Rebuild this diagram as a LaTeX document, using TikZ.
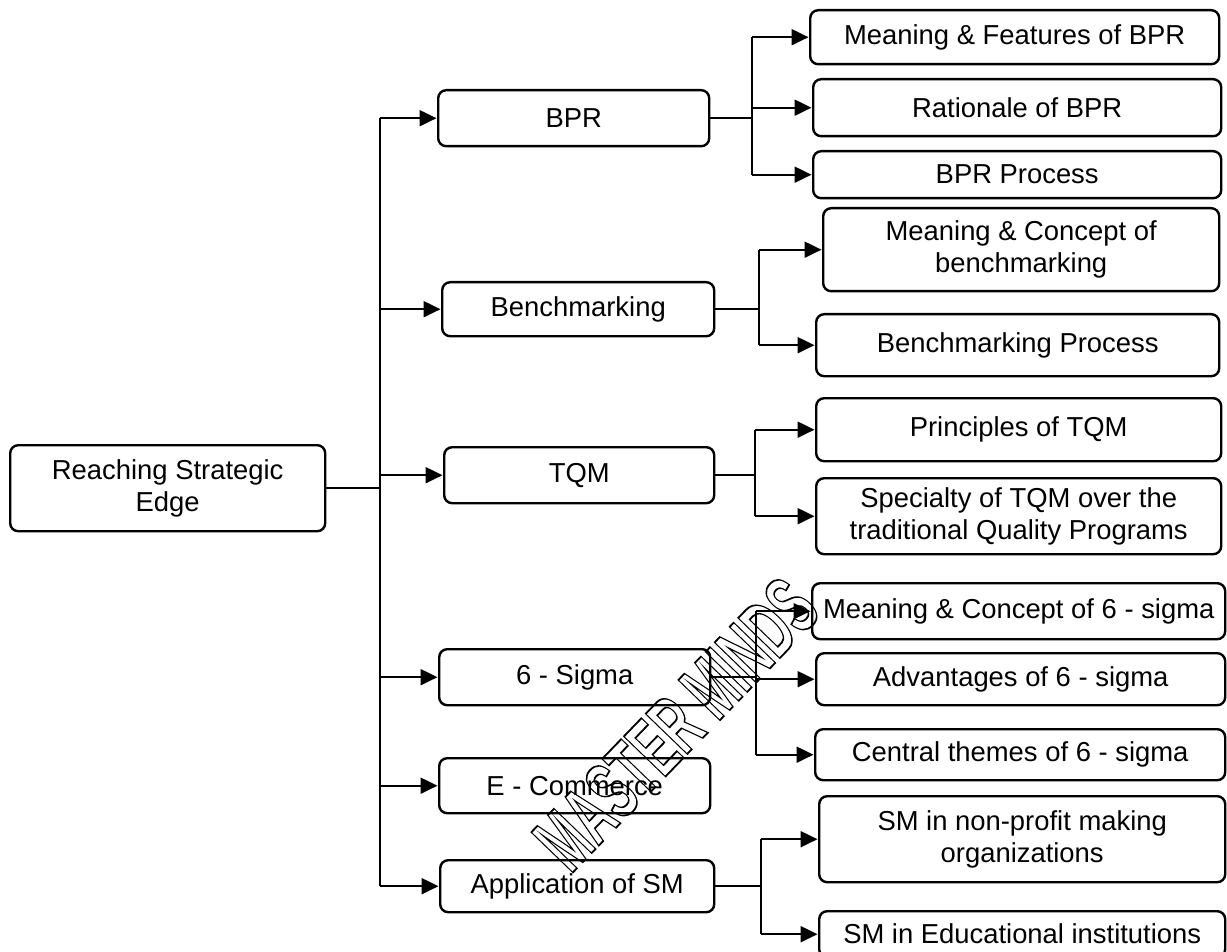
\documentclass[tikz,border=0pt]{standalone}
\usepackage{fontspec}
\setmainfont{Liberation Sans}
\usetikzlibrary{arrows.meta}
\tikzset{
  box/.style={draw, rounded corners=8pt, line width=2.4pt, align=center, inner sep=0pt,
    anchor=north west, font=\fontsize{27.4}{32}\selectfont},
  conn/.style={line width=2.1pt},
  arr/.style={line width=2.1pt, -{Triangle[length=17pt,width=16pt]}, shorten >=0.5pt},
  wmark/.style={inner sep=0pt, font=\fontsize{84}{84}\selectfont\bfseries}
}
\begin{document}
\begin{tikzpicture}[x=1pt,y=-1pt]
\useasboundingbox (0,0) rectangle (1227,952);
% root
\node[box, minimum width=315pt, minimum height=86pt] (root) at (9,444) {Reaching Strategic\\Edge};
% level 1
\node[box, minimum width=271pt, minimum height=56pt] (bpr) at (437,89) {BPR};
\node[box, minimum width=272pt, minimum height=54pt] (bench) at (441,281) {Benchmarking};
\node[box, minimum width=270pt, minimum height=56pt] (tqm) at (443,446) {TQM};
\node[box, minimum width=271pt, minimum height=56pt] (sig) at (438,648) {6 - Sigma};
\node[box, minimum width=271pt, minimum height=55pt] (ecom) at (438,757) {E - Commerce};
\node[box, minimum width=274pt, minimum height=52pt] (app) at (439,859) {Application of SM};
% level 2
\node[box, minimum width=409pt, minimum height=54pt] (m1) at (809,9) {Meaning \& Features of BPR};
\node[box, minimum width=408pt, minimum height=57pt] (m2) at (812,78) {Rationale of BPR};
\node[box, minimum width=408pt, minimum height=47pt] (m3) at (812,150) {BPR Process};
\node[box, minimum width=396pt, minimum height=83pt] (b1) at (822,207) {Meaning \& Concept of\\benchmarking};
\node[box, minimum width=403pt, minimum height=62pt] (b2) at (815,313) {Benchmarking Process};
\node[box, minimum width=405pt, minimum height=63pt] (t1) at (815,397) {Principles of TQM};
\node[box, minimum width=405pt, minimum height=76pt] (t2) at (815,477) {Specialty of TQM over the\\traditional Quality Programs};
\node[box, minimum width=413pt, minimum height=56pt] (s1) at (811,582) {Meaning \& Concept of 6 - sigma};
\node[box, minimum width=409pt, minimum height=52pt] (s2) at (815,652) {Advantages of 6 - sigma};
\node[box, minimum width=410pt, minimum height=51pt] (s3) at (814,728) {Central themes of 6 - sigma};
\node[box, minimum width=406pt, minimum height=86pt] (a1) at (818,795) {SM in non-profit making\\organizations};
\node[box, minimum width=406pt, minimum height=46pt] (a2) at (818,910) {SM in Educational institutions};
% junction x positions
\coordinate (trk) at (380,0);
\coordinate (jbpr) at (752,0);
\coordinate (jben) at (759,0);
\coordinate (jtqm) at (755,0);
\coordinate (jsig) at (756,0);
\coordinate (japp) at (761,0);
% trunk
\draw[conn] (root.east) -- (root.east -| trk);
\draw[conn] (trk |- bpr.west) -- (trk |- app.west);
\foreach \n in {bpr,bench,tqm,sig,ecom,app}
  \draw[arr] (trk |- \n.west) -- (\n.west);
% BPR branch
\draw[conn] (bpr.east) -- (bpr.east -| jbpr);
\draw[conn] (jbpr |- m1.west) -- (jbpr |- m3.west);
\foreach \n in {m1,m2,m3} \draw[arr] (jbpr |- \n.west) -- (\n.west);
% Benchmarking branch
\draw[conn] (bench.east) -- (bench.east -| jben);
\draw[conn] (jben |- b1.west) -- (jben |- b2.west);
\foreach \n in {b1,b2} \draw[arr] (jben |- \n.west) -- (\n.west);
% TQM branch
\draw[conn] (tqm.east) -- (tqm.east -| jtqm);
\draw[conn] (jtqm |- t1.west) -- (jtqm |- t2.west);
\foreach \n in {t1,t2} \draw[arr] (jtqm |- \n.west) -- (\n.west);
% 6-Sigma branch
\draw[conn] (sig.east) -- (sig.east -| jsig);
\draw[conn] (jsig |- s1.west) -- (jsig |- s3.west);
\foreach \n in {s1,s2,s3} \draw[arr] (jsig |- \n.west) -- (\n.west);
% Application branch
\draw[conn] (app.east) -- (app.east -| japp);
\draw[conn] (japp |- a1.west) -- (japp |- a2.west);
\foreach \n in {a1,a2} \draw[arr] (japp |- \n.west) -- (\n.west);
% watermark
\node[wmark, rotate=46] (wm) at (676,724) {\special{pdf:literal 1 Tr 1.8 w}\scalebox{0.56}[1]{MASTER MINDS}\special{pdf:literal 0 Tr}};
\end{tikzpicture}
\end{document}
